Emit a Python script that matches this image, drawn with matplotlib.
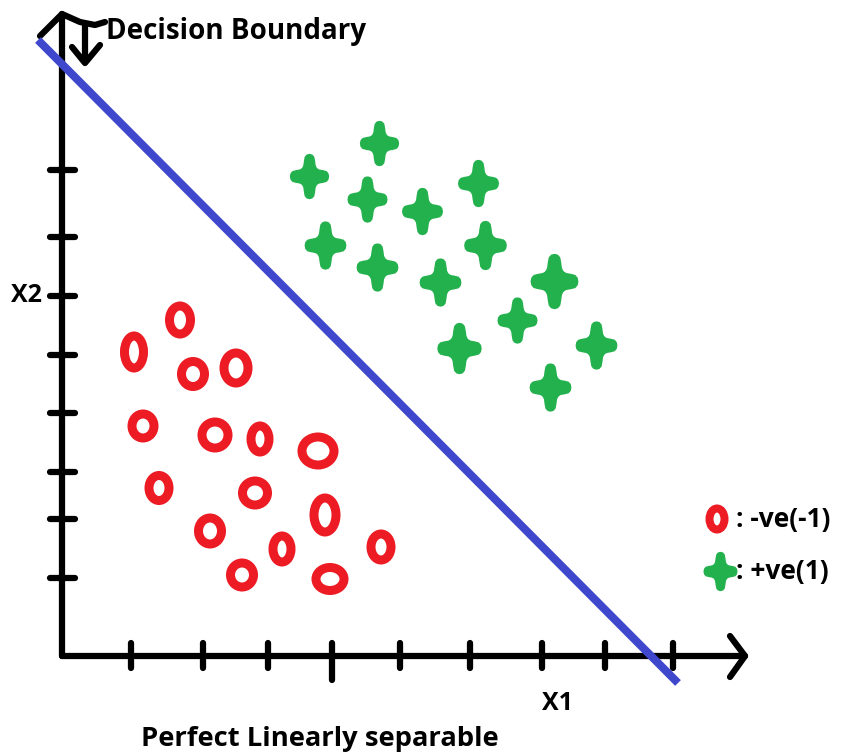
import numpy as np
import matplotlib.pyplot as plt
from matplotlib.patches import Ellipse
from matplotlib.path import Path

# everything in pixel units (origin top-left)
circle_x = [180, 134, 193, 236, 143, 215, 260, 318, 159, 255, 325, 210, 282, 381, 242, 330]
circle_y = [320, 352, 374, 368, 426, 435, 439, 451, 488, 493, 515, 531, 549, 547, 575, 579]
circle_w = [30, 28, 32, 33, 31, 35, 27, 41, 29, 34, 31, 32, 27, 29, 32, 37]
circle_h = [37, 41, 34, 39, 33, 35, 35, 37, 34, 33, 43, 35, 35, 35, 33, 32]

star_x = [379, 309, 367, 478, 422, 325, 485, 377, 440, 554, 517, 459, 596, 550]
star_y = [143, 176, 199, 183, 211, 245, 245, 267, 282, 281, 320, 348, 345, 387]
star_h = [44, 44, 45, 46, 46, 47, 48, 47, 47, 54, 45, 50, 47, 47]

x_ticks = [131, 203, 268, 332, 400, 470, 542, 605, 673]
y_ticks = [170, 237, 296, 355, 413, 472, 519, 578]

origin = (62, 656)
x_end, y_end = 745, 14
boundary_x = [38, 678]
boundary_y = [40, 683]

RED = '#ed1c24'
GREEN = '#22b14c'
BLUE = '#3f48cc'

plt.rcParams['font.family'] = ['Open Sans', 'DejaVu Sans']

fig = plt.figure(figsize=(8.51, 7.56), dpi=100)
ax = fig.add_axes([0, 0, 1, 1])
ax.set_xlim(0, 851)
ax.set_ylim(756, 0)
ax.axis('off')

pen = dict(color='black', lw=4.5, solid_capstyle='round', solid_joinstyle='round', zorder=2)

# axes
ax.plot([origin[0], x_end], [origin[1], origin[1]], **pen)
ax.plot([origin[0], origin[0]], [origin[1], y_end], **pen)
ax.plot([730, x_end, 730], [636, origin[1], 677], **pen)
ax.plot([40, origin[0], 80, 95, 105], [36, y_end, 22, 25, 22], **pen)
ax.plot([85, 85], [26, 62], **pen)
ax.plot([72, 85, 100], [47, 63, 45], **pen)

for t in x_ticks:
    low = 680 if t == 332 else 668
    ax.plot([t, t], [643, low], **pen)
for t in y_ticks:
    ax.plot([50, 75], [t, t], **pen)

# decision boundary
ax.plot(boundary_x, boundary_y, color=BLUE, lw=5.8, solid_capstyle='butt', zorder=3)

# negative class rings
ring = 9
for x, y, w, h in zip(circle_x, circle_y, circle_w, circle_h):
    ax.add_patch(Ellipse((x, y), w - ring, h - ring, fill=False, edgecolor=RED, lw=ring * 0.72, zorder=4))

# positive class: four-point stars (one quadrant, mirrored)
q = np.array([[0.0, 1.0], [0.13, 0.97], [0.22, 0.88], [0.26, 0.7], [0.29, 0.5],
              [0.34, 0.4], [0.4, 0.34], [0.5, 0.29], [0.7, 0.26],
              [0.88, 0.22], [0.97, 0.13], [1.0, 0.0]])
quad1 = q
quad2 = q[::-1] * [1, -1]
quad3 = q * [-1, -1]
quad4 = q[::-1] * [-1, 1]
pts = np.vstack([quad1, quad2[1:], quad3[1:], quad4[1:]]) * [0.86, 1]
star = Path(pts)
for x, y, h in zip(star_x, star_y, star_h):
    ax.plot(x, y, marker=star, markersize=h * 0.72, color=GREEN, linestyle='none', zorder=4)

# legend
ax.add_patch(Ellipse((717, 519), 23 - 8, 29 - 8, fill=False, edgecolor=RED, lw=8 * 0.72, zorder=4))
ax.plot(720, 571, marker=star, markersize=38 * 0.72, color=GREEN, linestyle='none', zorder=4)
ax.text(736, 519, ': -ve(-1)', fontsize=19, fontweight='bold', va='center', ha='left')
ax.text(736, 571, ': +ve(1)', fontsize=19, fontweight='bold', va='center', ha='left')

# labels
ax.text(106, 32, 'Decision Boundary', fontsize=20, fontweight='bold', va='center', ha='left')
ax.text(11, 295, 'X2', fontsize=18, fontweight='bold', va='center', ha='left')
ax.text(542, 704, 'X1', fontsize=18, fontweight='bold', va='center', ha='left')
ax.text(141, 739, 'Perfect Linearly separable', fontsize=19.7, fontweight='bold', va='center', ha='left')

fig.savefig('out.png', dpi=100)
